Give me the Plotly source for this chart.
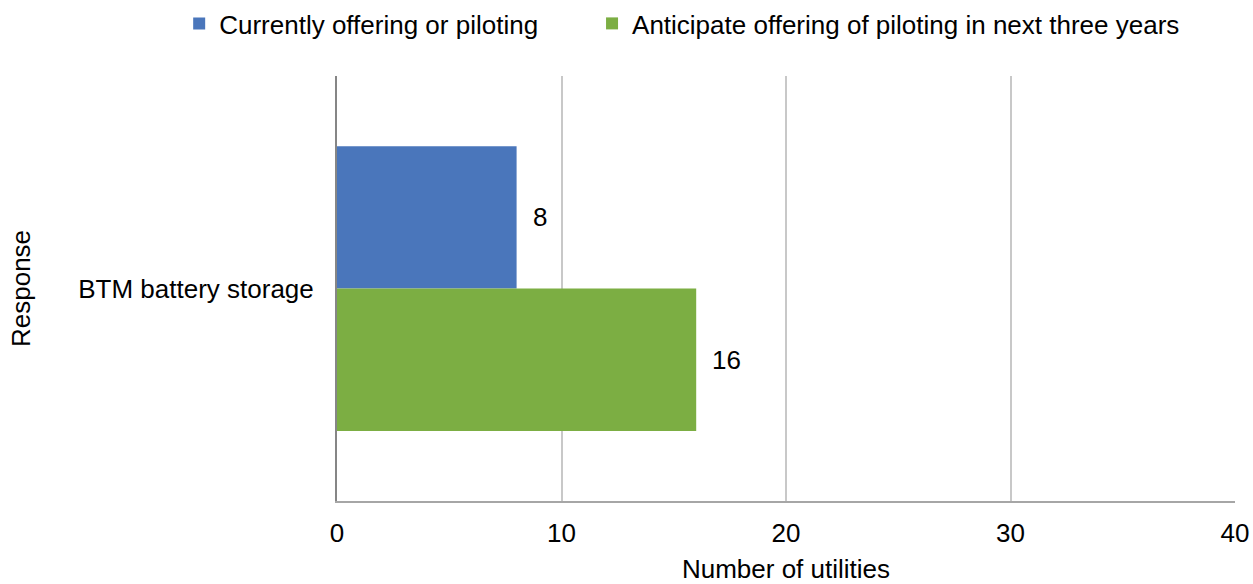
import plotly.graph_objects as go

categories = ["BTM battery storage"]
current_vals = [8]
anticipate_vals = [16]
series_names = ["Currently offering or piloting",
                "Anticipate offering of piloting in next three years"]
x_ticks = [0, 10, 20, 30, 40]

FONT = "Liberation Sans, Arial, sans-serif"
FS = 26
BLUE = "#4a76bb"
GREEN = "#7cae43"
BARGAP = 0.33

fig = go.Figure()
fig.add_trace(go.Bar(y=categories, x=current_vals, orientation="h",
                     name=series_names[0], legend="legend",
                     marker=dict(color=BLUE, line_width=0)))
fig.add_trace(go.Bar(y=categories, x=anticipate_vals, orientation="h",
                     name=series_names[1], legend="legend2",
                     marker=dict(color=GREEN, line_width=0)))

# value labels placed just right of each bar end, centred on each bar
half = (1 - BARGAP) / 4
for vals, off in ((current_vals, -half), (anticipate_vals, half)):
    for i, v in enumerate(vals):
        fig.add_annotation(x=v, y=i + off, xref="x", yref="y", text=str(v),
                           showarrow=False, xanchor="left", xshift=14,
                           font=dict(family=FONT, size=FS, color="black"))

legend_common = dict(orientation="h", xref="container", xanchor="left",
                     yref="container", y=1.0, yanchor="top",
                     font=dict(family=FONT, size=FS), itemwidth=30)

fig.update_layout(
    width=1253, height=584,
    margin=dict(l=337, r=18, t=76, b=83, autoexpand=False),
    paper_bgcolor="white", plot_bgcolor="white",
    barmode="group", bargap=BARGAP, bargroupgap=0,
    font=dict(family=FONT, size=FS, color="black"),
    legend=dict(x=0.143, **legend_common),
    legend2=dict(x=0.4725, **legend_common),
    showlegend=True,
)
fig.update_xaxes(range=[0, 40], tickvals=x_ticks, showgrid=True,
                 gridcolor="#c8c8c8", gridwidth=2, zeroline=False,
                 showline=True, linecolor="#a6a6a6", linewidth=2,
                 ticks="", ticklabelstandoff=8, automargin=False,
                 title=dict(text="Number of utilities", standoff=26,
                            font=dict(size=FS)))
fig.update_yaxes(autorange="reversed", showline=True, linecolor="#868686",
                 linewidth=2, ticks="", ticklabelstandoff=16, automargin=False,
                 title=dict(text="Response", standoff=40, font=dict(size=FS)))

fig.write_html("out.html")
